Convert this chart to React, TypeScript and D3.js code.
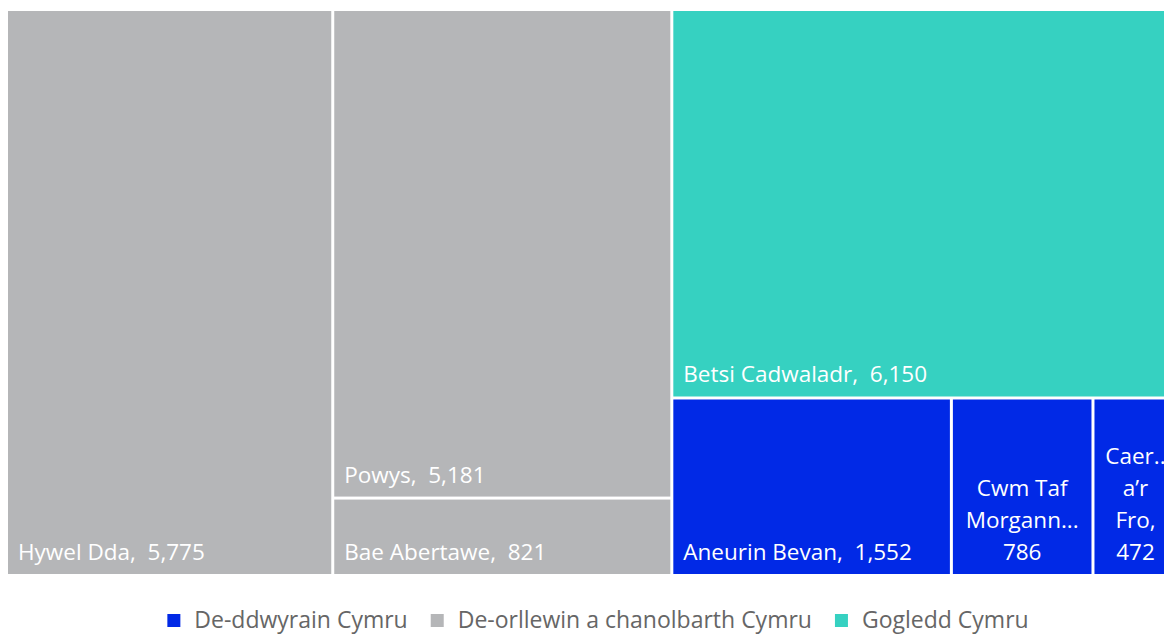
import React from "react";
import * as d3 from "d3";

const names = ["Hywel Dda", "Powys", "Bae Abertawe", "Betsi Cadwaladr", "Aneurin Bevan", "Cwm Taf Morgannwg", "Caerdydd a’r Fro"];
const values = [5775, 5181, 821, 6150, 1552, 786, 472];
const regions = [
  "De-orllewin a chanolbarth Cymru",
  "De-orllewin a chanolbarth Cymru",
  "De-orllewin a chanolbarth Cymru",
  "Gogledd Cymru",
  "De-ddwyrain Cymru",
  "De-ddwyrain Cymru",
  "De-ddwyrain Cymru",
];
const legendRegions = ["De-ddwyrain Cymru", "De-orllewin a chanolbarth Cymru", "Gogledd Cymru"];
const regionColors = ["#0129E6", "#B5B6B8", "#36D1C1"];

const W = 1164;
const H = 634;
const FONT = "'Open Sans', 'Noto Sans', sans-serif";
const LABEL_SIZE = 22.5;
const LEGEND_SIZE = 23;

let ctx: CanvasRenderingContext2D | null = null;
function measure(text: string, size: number) {
  if (!ctx) ctx = document.createElement("canvas").getContext("2d");
  ctx!.font = `${size}px ${FONT}`;
  return ctx!.measureText(text).width;
}

function truncateWord(word: string, maxW: number, size: number) {
  if (measure(word, size) <= maxW) return word;
  for (let k = word.length - 1; k > 0; k--) {
    for (const dots of ["...", ".."]) {
      const t = word.slice(0, k) + dots;
      if (measure(t, size) <= maxW) return t;
    }
  }
  return word.slice(0, 1);
}

function wrapLabel(name: string, value: string, maxW: number, size: number) {
  const words = (name + ",").split(" ").concat([value]);
  const lines: string[] = [];
  let cur = "";
  for (const w of words) {
    const cand = cur ? cur + " " + w : w;
    if (measure(cand, size) <= maxW) {
      cur = cand;
    } else {
      if (cur) lines.push(cur);
      cur = truncateWord(w, maxW, size);
    }
  }
  if (cur) lines.push(cur);
  return lines;
}

export default function App() {
  const color = d3.scaleOrdinal<string, string>().domain(legendRegions).range(regionColors);
  const fmt = d3.format(",");

  type Node = { name: string; value?: number; children?: Node[] };
  const root: Node = { name: "root", children: [] };
  regions.forEach((r, i) => {
    let g = root.children!.find((c) => c.name === r);
    if (!g) {
      g = { name: r, children: [] };
      root.children!.push(g);
    }
    g.children!.push({ name: names[i], value: values[i] });
  });

  const h = d3
    .hierarchy<Node>(root)
    .sum((d) => d.value || 0)
    .sort((a, b) => (b.value || 0) - (a.value || 0));

  // The plot area runs slightly past the right edge of the view, as in the reference
  d3.treemap<Node>().tile(d3.treemapSquarify.ratio(1)).size([1168.5, 563]).paddingInner(3).round(false)(h);

  const leaves = h.leaves() as d3.HierarchyRectangularNode<Node>[];
  const ox = 8;
  const oy = 11;

  // legend
  const sq = 13;
  const gapSqText = 14;
  const gapItems = 23;
  const itemWidths = legendRegions.map((r) => sq + gapSqText + measure(r, LEGEND_SIZE));
  const totalW = d3.sum(itemWidths) + gapItems * (legendRegions.length - 1);
  let lx = 598 - totalW / 2;
  const legendItems = legendRegions.map((r, i) => {
    const x = lx;
    lx += itemWidths[i] + gapItems;
    return { r, x };
  });

  return (
    <svg
      width={W}
      height={H}
      style={{ position: "absolute", left: 0, top: 0, display: "block", background: "#fff" }}
      fontFamily={FONT}
    >
      {leaves.map((d, i) => {
        const x0 = ox + d.x0;
        const y0 = oy + d.y0;
        const w = d.x1 - d.x0;
        const hh = d.y1 - d.y0;
        const region = (d.parent as any).data.name;
        const val = fmt(d.value || 0);
        const single = `${d.data.name},  ${val}`;
        const fits = measure(single, LABEL_SIZE) <= w - 20;
        let label;
        if (fits) {
          label = (
            <text x={x0 + 10} y={y0 + hh - 14} fill="#fff" fontSize={LABEL_SIZE} style={{ whiteSpace: "pre" }}>
              {single}
            </text>
          );
        } else {
          const lines = wrapLabel(d.data.name, val, w - 20, LABEL_SIZE);
          const lh = 32;
          label = (
            <text fill="#fff" fontSize={LABEL_SIZE} textAnchor="middle">
              {lines.map((l, j) => (
                <tspan key={j} x={x0 + w / 2} y={y0 + hh - 14 - (lines.length - 1 - j) * lh}>
                  {l}
                </tspan>
              ))}
            </text>
          );
        }
        return (
          <g key={i}>
            <rect x={x0} y={y0} width={w} height={hh} fill={color(region)} />
            {label}
          </g>
        );
      })}
      {legendItems.map((it, i) => (
        <g key={it.r}>
          <rect x={it.x} y={614} width={sq} height={sq} fill={color(it.r)} />
          <text x={it.x + sq + gapSqText} y={628} fontSize={LEGEND_SIZE} fill="#666">
            {it.r}
          </text>
        </g>
      ))}
    </svg>
  );
}
